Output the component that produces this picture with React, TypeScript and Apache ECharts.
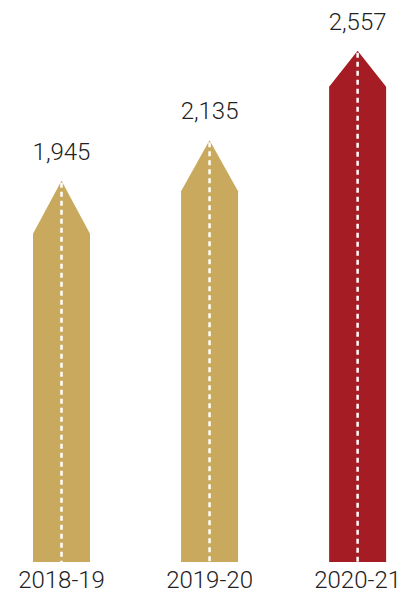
import React, { useEffect, useRef } from "react";
import * as echarts from "echarts";

const categories = ["2018-19", "2019-20", "2020-21"];
const values = [1945, 2135, 2557];
const barColors = ["#C8A95D", "#C8A95D", "#A61C24"];
const headHeights = [53, 51, 36];

export default function App() {
  const ref = useRef<HTMLDivElement>(null);
  useEffect(() => {
    document.body.style.margin = "0";
    const chart = echarts.init(ref.current!, null, { renderer: "svg" });
    const barWidth = 57;
    chart.setOption({
      animation: false,
      grid: { left: 61.5, right: 42.5, top: 41.6, bottom: 32 },
      xAxis: {
        type: "category",
        data: categories,
        boundaryGap: false,
        axisLine: { show: false },
        axisTick: { show: false },
        axisLabel: {
          fontSize: 24,
          fontFamily: "Roboto",
          fontWeight: 300,
          color: "#222222",
          margin: 6,
        },
      },
      yAxis: {
        type: "value",
        min: 150,
        max: 2600,
        show: false,
        splitLine: { show: false },
      },
      series: [
        {
          type: "custom",
          data: values.map((v, i) => [i, v]),
          renderItem: (params: any, api: any) => {
            const idx = params.dataIndex;
            const tip = api.coord([api.value(0), api.value(1)]);
            const base = api.coord([api.value(0), 150]);
            const cx = tip[0];
            const hw = barWidth / 2;
            const shoulder = tip[1] + headHeights[idx];
            return {
              type: "group",
              children: [
                {
                  type: "polygon",
                  shape: {
                    points: [
                      [cx, tip[1]],
                      [cx + hw, shoulder],
                      [cx + hw, base[1]],
                      [cx - hw, base[1]],
                      [cx - hw, shoulder],
                    ],
                  },
                  style: { fill: barColors[idx] },
                },
                {
                  type: "line",
                  shape: { x1: cx, y1: tip[1] + 2, x2: cx, y2: base[1] },
                  style: { stroke: "#ffffff", lineWidth: 2.5, lineDash: [5, 4] },
                },
                {
                  type: "text",
                  x: cx,
                  y: tip[1] - 29,
                  style: {
                    text: values[idx].toLocaleString("en-US"),
                    fontSize: 24,
                    fontFamily: "Roboto",
                    fontWeight: 300,
                    fill: "#222222",
                    align: "center",
                    verticalAlign: "middle",
                  },
                },
              ],
            };
          },
        },
      ],
    });
    return () => chart.dispose();
  }, []);
  return <div ref={ref} style={{ width: 404, height: 594 }} />;
}
